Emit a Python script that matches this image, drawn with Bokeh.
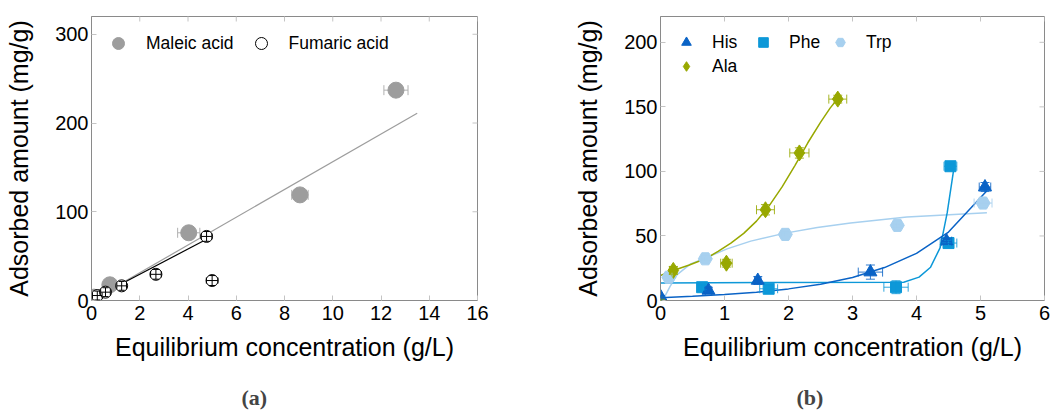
import math
from bokeh.plotting import figure
from bokeh.models import (ColumnDataSource, Whisker, TeeHead, FixedTicker,
                          Range1d, Title, Legend)
from bokeh.layouts import row
from bokeh.embed import file_html
from bokeh.resources import INLINE

# ---------------- data: panel (a) ----------------
maleic_x = [0.02, 0.10, 0.76, 4.03, 8.64, 12.62]
maleic_y = [1.0, 3.8, 17.7, 76.3, 119.0, 237.0]
maleic_xerr = [0.05, 0.05, 0.08, 0.46, 0.34, 0.50]
maleic_fit_x = [0.0, 13.5]
maleic_fit_y = [0.0, 211.0]

fumaric_x = [0.24, 0.58, 1.25, 2.67, 4.77, 5.00]
fumaric_y = [5.6, 9.4, 16.5, 29.5, 72.2, 22.5]
fumaric_xerr = [0.20, 0.20, 0.20, 0.22, 0.22, 0.24]
fumaric_yerr = [5.0, 5.0, 5.0, 5.5, 5.5, 5.6]
fumaric_fit_x = [0.24, 4.77]
fumaric_fit_y = [4.5, 69.0]

a_xrange = (0, 16)
a_yrange = (0, 320)
a_xticks = [0, 2, 4, 6, 8, 10, 12, 14, 16]
a_yticks = [0, 100, 200, 300]

# ---------------- data: panel (b) ----------------
his_x = [0.0, 0.75, 1.52, 3.28, 4.47, 5.07]
his_y = [3.0, 7.8, 15.5, 22.0, 46.0, 87.9]
his_xerr = [0.02, 0.05, 0.05, 0.19, 0.08, 0.09]
his_yerr = [1.0, 2.0, 3.0, 5.5, 2.0, 3.5]
his_fit_x = [0.0, 0.5, 1.0, 1.5, 2.0, 2.5, 3.0, 3.5, 4.0, 4.5, 5.1]
his_fit_y = [2.1, 3.2, 4.6, 6.4, 9.0, 12.6, 17.8, 25.5, 36.5, 53.0, 85.0]

phe_x = [0.65, 1.69, 3.68, 4.50, 4.53]
phe_y = [10.3, 9.1, 10.3, 44.5, 104.0]
phe_xerr = [0.05, 0.14, 0.19, 0.13, 0.10]
phe_yerr = [2.0, 3.0, 5.0, 2.0, 2.0]
phe_fit_x = [0.0, 3.80, 4.04, 4.22, 4.37, 4.48, 4.58]
phe_fit_y = [13.6, 14.2, 18.1, 25.8, 41.0, 68.0, 101.0]

trp_x = [0.13, 0.70, 1.95, 3.70, 5.04]
trp_y = [18.0, 32.3, 51.2, 58.2, 75.5]
trp_xerr = [0.05, 0.05, 0.05, 0.05, 0.14]
trp_yerr = [2.0, 2.0, 2.0, 2.0, 3.0]
trp_fit_x = [0.05, 0.15, 0.26, 0.47, 0.70, 1.04, 1.41, 1.93, 2.45, 2.97, 3.85, 5.10]
trp_fit_y = [1.5, 11.0, 20.0, 28.4, 32.8, 40.0, 46.0, 52.0, 56.5, 60.0, 64.6, 68.0]

ala_x = [0.0, 0.20, 1.03, 1.64, 2.17, 2.77]
ala_y = [0.0, 23.3, 28.9, 70.3, 114.3, 156.0]
ala_xerr = [0.02, 0.06, 0.09, 0.14, 0.15, 0.14]
ala_yerr = [1.0, 3.0, 3.0, 4.0, 4.0, 3.0]
ala_fit_x = [0.0, 0.2, 0.45, 0.7, 0.9, 1.1, 1.3, 1.5, 1.7, 1.9, 2.1, 2.3, 2.5, 2.65, 2.77]
ala_fit_y = [19.4, 23.3, 27.5, 32.3, 38.0, 44.5, 52.0, 61.5, 73.5, 88.0, 104.5, 122.0,
             138.0, 149.0, 156.5]

b_xrange = (0, 6)
b_yrange = (0, 220)
b_xticks = [0, 1, 2, 3, 4, 5, 6]
b_yticks = [0, 50, 100, 150, 200]

FONT = "Liberation Sans"
FRAME = "#8a8a8a"
TICK = "#c4c4c4"

C_MAL = "#9d9d9d"
C_HIS = "#0a63c6"
C_PHE = "#0d98d8"
C_TRP = "#a7d0ef"
C_ALA = "#98a800"


def make_fig(xr, yr, xt, yt, bl, br, fw):
    p = figure(frame_width=fw, frame_height=284, min_border_left=bl, min_border_right=br,
               min_border_top=16, min_border_bottom=116,
               x_range=Range1d(*xr), y_range=Range1d(*yr),
               output_backend="svg", toolbar_location=None)
    p.grid.visible = False
    p.outline_line_color = FRAME
    p.outline_line_width = 1
    p.background_fill_color = "white"
    p.border_fill_color = "white"
    p.xaxis.ticker = FixedTicker(ticks=xt)
    p.yaxis.ticker = FixedTicker(ticks=yt)
    p.xaxis.axis_label = "Equilibrium concentration (g/L)"
    p.yaxis.axis_label = "Adsorbed amount (mg/g)"
    for ax in list(p.xaxis) + list(p.yaxis):
        ax.axis_line_color = FRAME
        ax.major_tick_line_color = TICK
        ax.major_tick_in = 5
        ax.major_tick_out = 0
        ax.minor_tick_line_color = None
        ax.major_label_text_font = FONT
        ax.major_label_text_font_size = "20px"
        ax.major_label_text_color = "black"
        ax.axis_label_text_font = FONT
        ax.axis_label_text_font_size = "25px"
        ax.axis_label_text_font_style = "normal"
        ax.axis_label_text_color = "black"
    p.xaxis.major_label_standoff = 5
    p.xaxis.axis_label_standoff = 10
    p.yaxis.major_label_standoff = 3
    p.yaxis.axis_label_standoff = 19
    # mirrored inward ticks on the top and right edges (half of each dash is clipped)
    p.scatter(xt, [yr[1]] * len(xt), marker="dash", angle=math.pi / 2, size=10,
              line_color=TICK, line_width=1)
    p.scatter([xr[1]] * len(yt), yt, marker="dash", size=10, line_color=TICK, line_width=1)
    return p


def whisk(p, x, y, err, color, dim, head, level="annotation", alpha=1.0):
    if dim == "width":
        src = ColumnDataSource(dict(base=y, lower=[a - e for a, e in zip(x, err)],
                                    upper=[a + e for a, e in zip(x, err)]))
    else:
        src = ColumnDataSource(dict(base=x, lower=[a - e for a, e in zip(y, err)],
                                    upper=[a + e for a, e in zip(y, err)]))
    w = Whisker(source=src, base="base", lower="lower", upper="upper", dimension=dim,
                line_color=color, line_width=1, line_alpha=alpha, level=level,
                upper_head=TeeHead(size=head, line_color=color, line_alpha=alpha),
                lower_head=TeeHead(size=head, line_color=color, line_alpha=alpha))
    p.add_layout(w)


# ---------------- panel (a) ----------------
pa = make_fig(a_xrange, a_yrange, a_xticks, a_yticks, 91, 51, 386)
pa.line(maleic_fit_x, maleic_fit_y, line_color=C_MAL, line_width=1.2)
pa.line(fumaric_fit_x, fumaric_fit_y, line_color="black", line_width=1.2)
whisk(pa, maleic_x, maleic_y, maleic_xerr, "#b0b0b0", "width", 10, level="underlay")
r_mal = pa.scatter(maleic_x, maleic_y, marker="circle", size=16, fill_color=C_MAL,
                   line_color=C_MAL)
r_fum = pa.scatter(fumaric_x, fumaric_y, marker="circle", size=12, fill_color="white",
                   line_color="black", line_width=1)
whisk(pa, fumaric_x, fumaric_y, fumaric_xerr, "black", "width", 6)
whisk(pa, fumaric_x, fumaric_y, fumaric_yerr, "black", "height", 6)

leg_a = Legend(items=[("Maleic acid", [r_mal]), ("Fumaric acid", [r_fum])],
               location="top_left", orientation="horizontal",
               glyph_width=30, glyph_height=30, label_standoff=13, spacing=12,
               margin=12, padding=0, border_line_color=None, background_fill_alpha=0,
               label_text_font=FONT, label_text_font_size="17.5px", label_text_color="black")
pa.add_layout(leg_a)
pa.add_layout(Title(text="(a)", align="left", offset=150, text_font="Liberation Serif",
                    text_font_style="bold", text_font_size="22px", standoff=39), "below")

# ---------------- panel (b) ----------------
pb = make_fig(b_xrange, b_yrange, b_xticks, b_yticks, 132, 7, 384)
pb.line(trp_fit_x, trp_fit_y, line_color=C_TRP, line_width=1.5)
pb.line(ala_fit_x, ala_fit_y, line_color=C_ALA, line_width=1.5)
pb.line(phe_fit_x, phe_fit_y, line_color=C_PHE, line_width=1.5)
pb.line(his_fit_x, his_fit_y, line_color=C_HIS, line_width=1.5)

r_trp = pb.scatter(trp_x, trp_y, marker="hex", size=14, fill_color=C_TRP, line_color=C_TRP)
r_ala = pb.scatter(ala_x, ala_y, marker="diamond", size=16, fill_color=C_ALA, line_color=C_ALA)
r_phe = pb.scatter(phe_x, phe_y, marker="square", size=11, fill_color=C_PHE, line_color=C_PHE)
r_his = pb.scatter(his_x, his_y, marker="triangle", size=13, fill_color=C_HIS, line_color=C_HIS)

for xs, ys, xe, ye, c in ((trp_x, trp_y, trp_xerr, trp_yerr, C_TRP),
                          (ala_x, ala_y, ala_xerr, ala_yerr, C_ALA),
                          (phe_x, phe_y, phe_xerr, phe_yerr, C_PHE),
                          (his_x, his_y, his_xerr, his_yerr, C_HIS)):
    whisk(pb, xs, ys, xe, c, "width", 9, alpha=0.85)
    whisk(pb, xs, ys, ye, c, "height", 9, alpha=0.85)

leg_b = Legend(items=[("His", [r_his]), ("Phe", [r_phe]), ("Trp", [r_trp]), ("Ala", [r_ala])],
               location="top_left", orientation="horizontal", ncols=3,
               glyph_width=24, glyph_height=24, label_standoff=14, spacing=0,
               label_width=39, margin=14, padding=0,
               border_line_color=None, background_fill_alpha=0,
               label_text_font=FONT, label_text_font_size="17.5px", label_text_color="black")
pb.add_layout(leg_b)
pb.add_layout(Title(text="(b)", align="left", offset=136, text_font="Liberation Serif",
                    text_font_style="bold", text_font_size="22px", standoff=39), "below")

layout = row(pa, pb)
open("out.html", "w").write(file_html(layout, INLINE))
